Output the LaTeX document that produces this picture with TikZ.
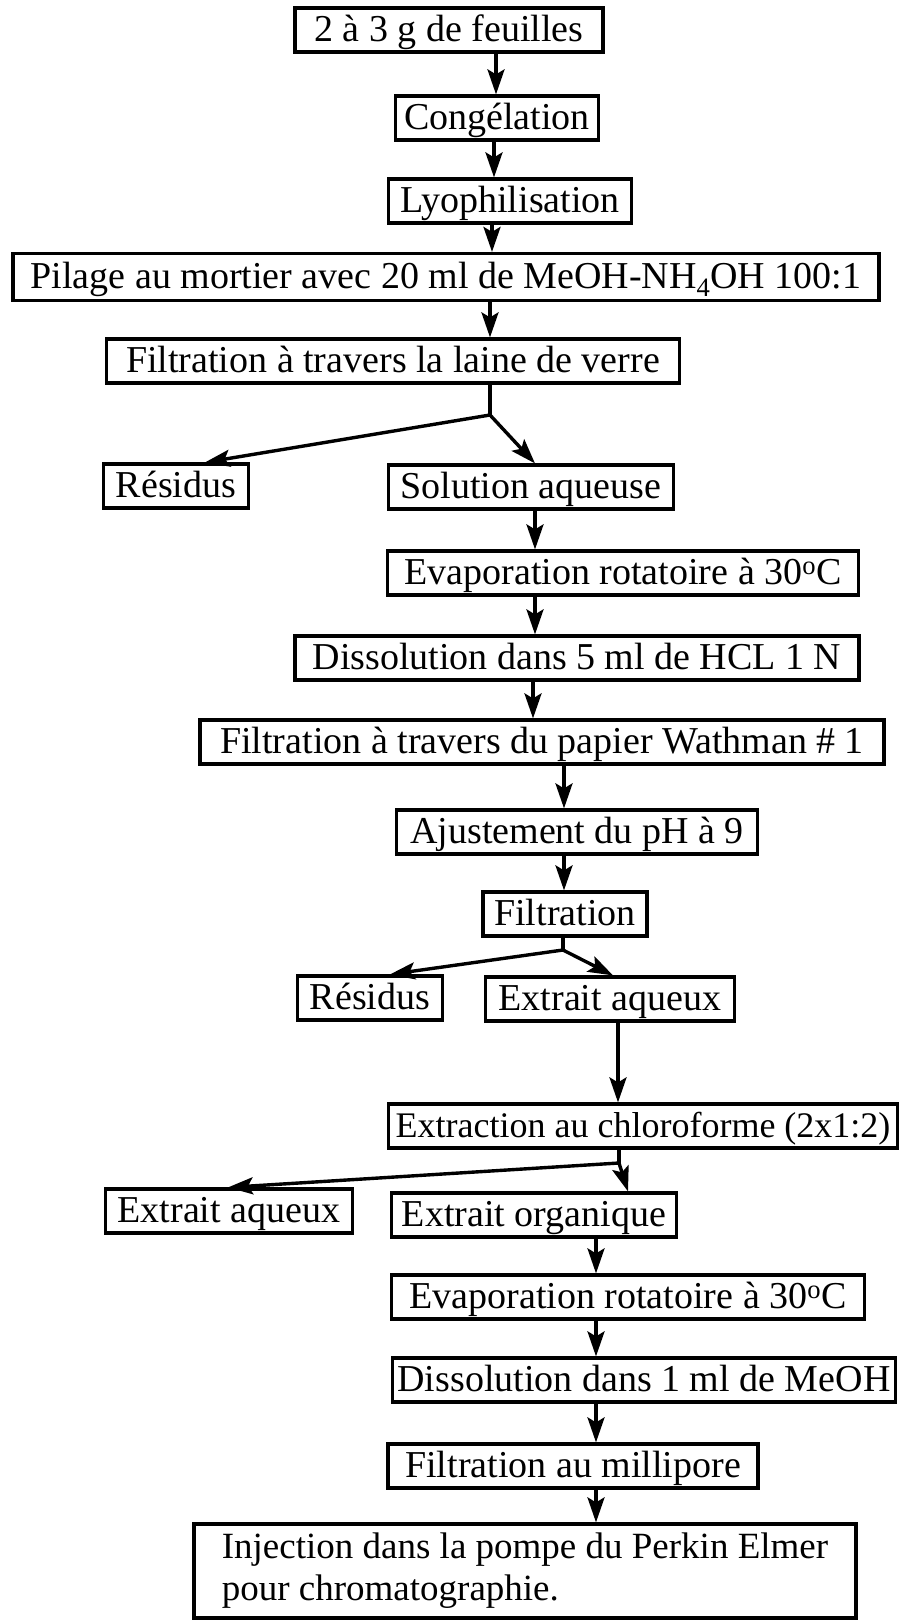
\documentclass[tikz,border=0pt]{standalone}
\usepackage{fontspec}
\setmainfont{Liberation Serif}
\usetikzlibrary{arrows.meta, positioning}

\begin{document}
\begin{tikzpicture}[
  x=1pt, y=-1pt,
  font=\fontsize{38}{42}\selectfont,
  >={Stealth[length=25pt,width=17pt,inset=5pt]},
  box/.style={
    rectangle, draw, line width=3.2pt, minimum height=44pt,
    inner sep=0pt, text height=29pt, text depth=7pt
  },
  bigbox/.style={
    rectangle, draw, line width=3.2pt, minimum height=94pt,
    inner sep=0pt, align=left
  },
  arrow/.style={->, line width=3.4pt}
]
\useasboundingbox (0,0) rectangle (906,1620);

% Préparation des feuilles
\node[box, minimum width=308pt] (feuilles) at (449,30)  {2 à 3 g de feuilles};
\node[box, minimum width=203pt] (congel)   at (497,118) {Congélation};
\node[box, minimum width=243pt] (lyo)      at (510,201) {Lyophilisation};
\node[box, minimum width=866pt, minimum height=47pt] (pilage) at (446,277)
  {Pilage au mortier avec 20 ml de MeOH-NH\textsubscript{4}OH 100:1};
\node[box, minimum width=573pt] (filtlaine) at (393,361) {Filtration à travers la laine de verre};

% Première séparation
\node[box, minimum width=145pt] (res1)  at (176,486) {Résidus};
\node[box, minimum width=285pt] (solaq) at (531,487) {Solution aqueuse};
\node[box, minimum width=471pt] (evap1) at (623,573) {Evaporation rotatoire à 30\textsuperscript{o}C};
\node[box, minimum width=564pt] (disshcl) at (577,658) {Dissolution dans 5 ml de HCL 1 N};
\node[box, minimum width=684pt] (filtpap) at (542,742) {Filtration à travers du papier Wathman \# 1};
\node[box, minimum width=361pt] (ajust) at (577,832) {Ajustement du pH à 9};
\node[box, minimum width=164pt] (filt)  at (565,914) {Filtration};

% Deuxième séparation
\node[box, minimum width=145pt] (res2)   at (370,998)  {Résidus};
\node[box, minimum width=249pt] (extaq1) at (610,999)  {Extrait aqueux};
\node[box, minimum width=509pt, font=\fontsize{36}{42}\selectfont] (extchl) at (643,1126)
  {Extraction au chloroforme (2x1:2)};

% Phase organique
\node[box, minimum width=247pt] (extaq2) at (229,1211) {Extrait aqueux};
\node[box, minimum width=285pt] (extorg) at (534,1215) {Extrait organique};
\node[box, minimum width=473pt] (evap2)  at (628,1297) {Evaporation rotatoire à 30\textsuperscript{o}C};
\node[box, minimum width=503pt] (dissmeoh) at (644,1380) {Dissolution dans 1 ml de MeOH};
\node[box, minimum width=370pt] (filtmil) at (573,1466) {Filtration au millipore};
\node[bigbox, minimum width=662pt, font=\fontsize{37}{42}\selectfont] (inject) at (525,1571)
  {Injection dans la pompe du Perkin Elmer\\pour chromatographie.};

% Branch points
\coordinate (b1) at (490,415);
\coordinate (b2) at (563,950);
\coordinate (b3) at (619,1163);

% Vertical arrows
\draw[arrow] (feuilles.south -| 496,0) -- (congel.north -| 496,0);
\draw[arrow] (congel.south -| 494,0)   -- (lyo.north -| 494,0);
\draw[arrow] (lyo.south -| 492,0)      -- (pilage.north -| 492,0);
\draw[arrow] (pilage.south -| 490,0)   -- (filtlaine.north -| 490,0);

% Split 1
\draw[line width=3.4pt] (filtlaine.south -| b1) -- (b1);
\draw[arrow] (b1) -- (res1.north -| 205,0);
\draw[arrow] (b1) -- (solaq.north -| 535,0);

\draw[arrow] (solaq.south -| 535,0)   -- (evap1.north -| 535,0);
\draw[arrow] (evap1.south -| 535,0)   -- (disshcl.north -| 535,0);
\draw[arrow] (disshcl.south -| 533,0) -- (filtpap.north -| 533,0);
\draw[arrow] (filtpap.south -| 564,0) -- (ajust.north -| 564,0);
\draw[arrow] (ajust.south -| 564,0)   -- (filt.north -| 564,0);

% Split 2
\draw[line width=3.4pt] (filt.south -| b2) -- (b2);
\draw[arrow] (b2) -- (res2.north -| 390,0);
\draw[arrow] (b2) -- (extaq1.north -| 613,0);

\draw[arrow] (extaq1.south -| 618,0) -- (extchl.north -| 618,0);

% Split 3
\draw[line width=3.4pt] (extchl.south -| b3) -- (b3);
\draw[arrow] (b3) -- (extaq2.north -| 228,0);
\draw[arrow] (b3) -- (extorg.north -| 628,0);

\draw[arrow] (extorg.south -| 596,0)   -- (evap2.north -| 596,0);
\draw[arrow] (evap2.south -| 596,0)    -- (dissmeoh.north -| 596,0);
\draw[arrow] (dissmeoh.south -| 596,0) -- (filtmil.north -| 596,0);
\draw[arrow] (filtmil.south -| 596,0)  -- (inject.north -| 596,0);

\end{tikzpicture}
\end{document}
